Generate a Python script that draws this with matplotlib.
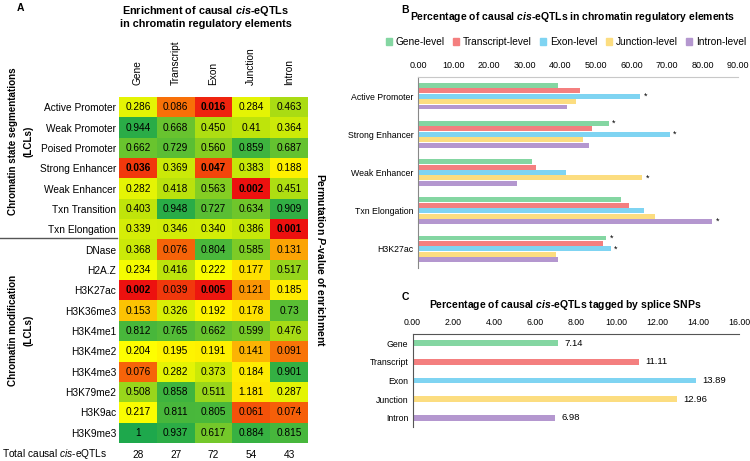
import numpy as np
import matplotlib
matplotlib.use("Agg")
import matplotlib.pyplot as plt
from matplotlib.colors import LinearSegmentedColormap
from matplotlib.patches import Patch

plt.rcParams['font.family'] = ['Liberation Sans', 'DejaVu Sans']
plt.rcParams['mathtext.fontset'] = 'custom'
plt.rcParams['mathtext.it'] = 'Liberation Sans:italic'
plt.rcParams['mathtext.bfit'] = 'Liberation Sans:italic:bold'
plt.rcParams['mathtext.rm'] = 'Liberation Sans'

# ---- panel A data ----
rows = ["Active Promoter", "Weak Promoter", "Poised Promoter", "Strong Enhancer",
        "Weak Enhancer", "Txn Transition", "Txn Elongation", "DNase", "H2A.Z",
        "H3K27ac", "H3K36me3", "H3K4me1", "H3K4me2", "H3K4me3", "H3K79me2",
        "H3K9ac", "H3K9me3"]
cols = ["Gene", "Transcript", "Exon", "Junction", "Intron"]
pval_text = [
    ["0.286", "0.086", "0.016", "0.284", "0.463"],
    ["0.944", "0.668", "0.450", "0.41", "0.364"],
    ["0.662", "0.729", "0.560", "0.859", "0.687"],
    ["0.036", "0.369", "0.047", "0.383", "0.188"],
    ["0.282", "0.418", "0.563", "0.002", "0.451"],
    ["0.403", "0.948", "0.727", "0.634", "0.909"],
    ["0.339", "0.346", "0.340", "0.386", "0.001"],
    ["0.368", "0.076", "0.804", "0.585", "0.131"],
    ["0.234", "0.416", "0.222", "0.177", "0.517"],
    ["0.002", "0.039", "0.005", "0.121", "0.185"],
    ["0.153", "0.326", "0.192", "0.178", "0.73"],
    ["0.812", "0.765", "0.662", "0.599", "0.476"],
    ["0.204", "0.195", "0.191", "0.141", "0.091"],
    ["0.076", "0.282", "0.373", "0.184", "0.901"],
    ["0.508", "0.858", "0.511", "1.181", "0.287"],
    ["0.217", "0.811", "0.805", "0.061", "0.074"],
    ["1", "0.937", "0.617", "0.884", "0.815"],
]
# cells printed in bold in the original
bold_cells = [(0, 2), (3, 0), (3, 2), (4, 3), (6, 4), (9, 0), (9, 2)]
totals = [28, 27, 72, 54, 43]

# ---- panel B data ----
b_cats = ["Active Promoter", "Strong Enhancer", "Weak Enhancer", "Txn Elongation", "H3K27ac"]
levels = ["Gene-level", "Transcript-level", "Exon-level", "Junction-level", "Intron-level"]
gene_pct = [39.3, 53.6, 32.1, 57.1, 53.0]
transcript_pct = [45.6, 48.9, 33.3, 59.3, 51.9]
exon_pct = [62.5, 70.8, 41.7, 63.5, 54.2]
junction_pct = [44.4, 46.3, 63.0, 66.7, 38.9]
intron_pct = [41.9, 48.1, 27.9, 82.7, 39.5]
stars = [[0, 1, 0, 0, 1],
         [0, 0, 0, 0, 0],
         [1, 1, 0, 0, 1],
         [0, 0, 1, 0, 0],
         [0, 0, 0, 1, 0]]

# ---- panel C data ----
c_cats = ["Gene", "Transcript", "Exon", "Junction", "Intron"]
splice_pct = [7.14, 11.11, 13.89, 12.96, 6.98]

colors = ["#84D6A2", "#F47F7F", "#7FD4F2", "#FCDD80", "#B497CF"]

W, H = 750, 461
fig = plt.figure(figsize=(7.5, 4.61), dpi=100)


def box(l, t, r, b):
    return [l / W, 1 - b / H, (r - l) / W, (b - t) / H]


# ================= A: heatmap =================
axA = fig.add_axes(box(119, 97, 308, 443))
vals = np.array([[float(v) for v in r] for r in pval_text])
colour_vals = vals.copy()
colour_vals[14, 3] = 0.181  # the "1.181" cell is coloured like 0.181 in the original

cmap = LinearSegmentedColormap.from_list("ryg", [
    (0.0, (0.93, 0.07, 0.06)),
    (0.1, (0.98, 0.50, 0.03)),
    (0.2, (1.0, 1.0, 0.0)),
    (0.4, (0.76, 0.90, 0.04)),
    (0.6, (0.47, 0.79, 0.16)),
    (1.0, (0.12, 0.66, 0.30)),
])
axA.imshow(colour_vals, cmap=cmap, vmin=0, vmax=1, aspect='auto', interpolation='nearest')
for i in range(len(rows)):
    for j in range(len(cols)):
        axA.text(j, i, pval_text[i][j], ha='center', va='center', fontsize=7.3,
                 fontweight='bold' if (i, j) in bold_cells else 'normal')
axA.set_yticks(range(len(rows)))
axA.set_yticklabels(rows, fontsize=7.3)
axA.set_xticks(range(len(cols)))
axA.set_xticklabels(cols, rotation=90, fontsize=7.3)
axA.xaxis.tick_top()
axA.tick_params(length=0, pad=2)
axA.tick_params(axis='x', pad=9)
for s in axA.spines.values():
    s.set_visible(False)

for j, t in enumerate(totals):
    axA.text(j, 17.1, str(t), ha='center', va='center', fontsize=7.3)
fig.text(107 / W, 1 - 454 / H, r"Total causal $\mathit{cis}$-eQTLs", ha='right', va='center', fontsize=7.3)

# separator line between the two groups
fig.add_artist(plt.Line2D([0, 117 / W], [1 - 238 / H, 1 - 238 / H], color='#555555', lw=1))

fig.text(13 / W, 1 - 141 / H, "Chromatin state segmentations", rotation=90, ha='center', va='center',
         fontsize=7.1, fontweight='bold')
fig.text(28 / W, 1 - 141 / H, "(LCLs)", rotation=90, ha='center', va='center', fontsize=7.1, fontweight='bold')
fig.text(13 / W, 1 - 330 / H, "Chromatin modification", rotation=90, ha='center', va='center',
         fontsize=7.1, fontweight='bold')
fig.text(28 / W, 1 - 330 / H, "(LCLs)", rotation=90, ha='center', va='center', fontsize=7.1, fontweight='bold')
fig.text(321 / W, 1 - 260 / H, r"Permutation $\mathbfit{P}$-value of enrichment", rotation=-90,
         ha='center', va='center', fontsize=7.5, fontweight='bold')

fig.text(206 / W, 1 - 11 / H, r"Enrichment of causal $\mathbfit{cis}$-eQTLs", ha='center', va='center',
         fontsize=7.8, fontweight='bold')
fig.text(206 / W, 1 - 24 / H, "in chromatin regulatory elements", ha='center', va='center',
         fontsize=7.8, fontweight='bold')
fig.text(20 / W, 1 - 8 / H, "A", fontsize=7.5, fontweight='bold', ha='center', va='center')

# ================= B: grouped bars =================
axB = fig.add_axes(box(418, 77, 738, 268))
series = [gene_pct, transcript_pct, exon_pct, junction_pct, intron_pct]
y = np.arange(len(b_cats))
step = 0.142
for k, (vals_k, col) in enumerate(zip(series, colors)):
    pos = y + (k - 2) * step
    axB.barh(pos, vals_k, height=step * 0.9, color=col, label=levels[k])
    for c in range(len(b_cats)):
        if stars[k][c]:
            axB.text(vals_k[c] + 1.0, pos[c], "*", ha='left', va='center', fontsize=6.5)
axB.set_xlim(0, 90)
axB.set_ylim(4.5, -0.5)
axB.set_xticks(np.arange(0, 91, 10))
axB.set_xticklabels(["%.2f" % v for v in np.arange(0, 91, 10)], fontsize=6.5)
axB.xaxis.tick_top()
axB.set_yticks(y)
axB.set_yticklabels(b_cats, fontsize=6.3)
axB.tick_params(length=0, pad=3)
axB.tick_params(axis='x', pad=5)
for s in ['right', 'bottom']:
    axB.spines[s].set_visible(False)
axB.spines['top'].set_color('#c8c8c8')
axB.spines['left'].set_color('#888888')

handles = [Patch(color=c) for c in colors]
fig.legend(handles, levels, loc='center', bbox_to_anchor=(566 / W, 1 - 42 / H), ncol=5, frameon=False,
           fontsize=7.3, handlelength=0.6, handleheight=0.6, handletextpad=0.35, columnspacing=0.85)
fig.text(573 / W, 1 - 17 / H, r"Percentage of causal $\mathbfit{cis}$-eQTLs in chromatin regulatory elements",
         ha='center', va='center', fontsize=7.5, fontweight='bold')
fig.text(405 / W, 1 - 10 / H, "B", fontsize=7.5, fontweight='bold', ha='center', va='center')

# ================= C: splice SNP bars =================
axC = fig.add_axes(box(412.5, 334, 739, 427))
yc = np.arange(len(c_cats))
axC.barh(yc, splice_pct, height=0.32, color=colors)
for i, v in enumerate(splice_pct):
    axC.text(v + 0.3, i, "%.2f" % v, ha='left', va='center', fontsize=6.8)
axC.set_xlim(0, 16)
axC.set_ylim(4.5, -0.5)
axC.set_xticks(np.arange(0, 17, 2))
axC.set_xticklabels(["%.2f" % v for v in np.arange(0, 17, 2)], fontsize=6.3)
axC.xaxis.tick_top()
axC.set_yticks(yc)
axC.set_yticklabels(c_cats, fontsize=6.3)
axC.tick_params(length=0, pad=3)
axC.tick_params(axis='x', pad=5)
for s in ['right', 'bottom']:
    axC.spines[s].set_visible(False)
axC.spines['top'].set_color('#555555')
axC.spines['left'].set_color('#555555')
fig.text(565 / W, 1 - 305 / H, r"Percentage of causal $\mathbfit{cis}$-eQTLs tagged by splice SNPs",
         ha='center', va='center', fontsize=7.5, fontweight='bold')
fig.text(405 / W, 1 - 297 / H, "C", fontsize=7.5, fontweight='bold', ha='center', va='center')

fig.savefig("out.png", dpi=100)
